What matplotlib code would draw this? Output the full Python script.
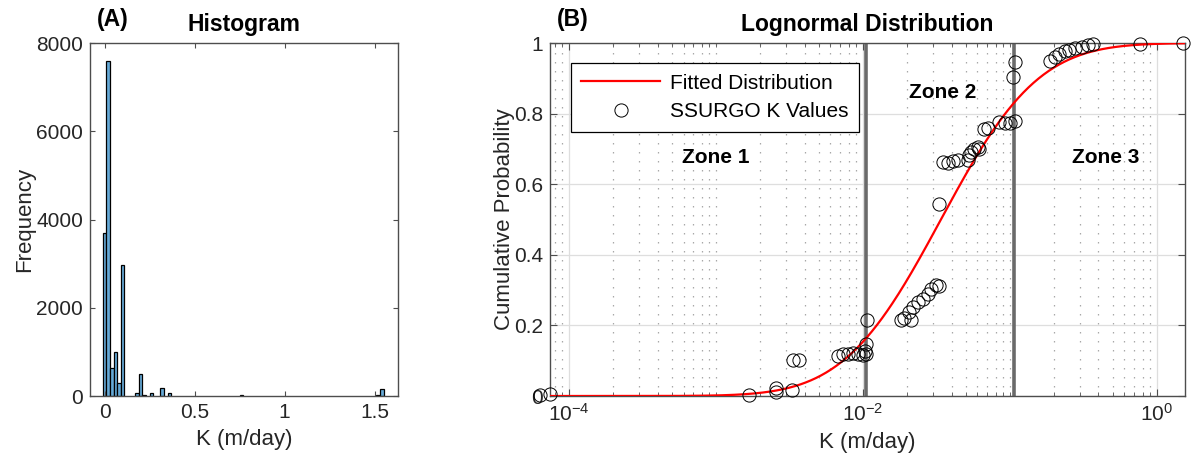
import math
import numpy as np
import matplotlib
matplotlib.use('Agg')
import matplotlib.pyplot as plt
from matplotlib.ticker import FixedLocator, LogLocator, NullFormatter

plt.rcParams['font.family'] = ['Liberation Sans', 'DejaVu Sans']
plt.rcParams['mathtext.default'] = 'regular'

# histogram of K values (bin centers in m/day, 0.02 wide bins)
hist_centers = [0.00, 0.02, 0.04, 0.06, 0.08, 0.10, 0.18, 0.20, 0.22, 0.26,
                0.32, 0.36, 0.76, 1.52, 1.54]
hist_counts = [3700, 7600, 630, 990, 290, 2960, 60, 510, 15, 60,
               175, 60, 15, 20, 170]
bin_width = 0.02

# SSURGO K values and their empirical cumulative probability
k_vals = [6.3e-5, 7.4e-5, 1.68e-3, 2.55e-3, 2.57e-3, 3.27e-3, 3.32e-3, 3.64e-3,
          6.71e-3, 7.26e-3, 7.85e-3, 8.49e-3, 9.18e-3, 9.93e-3, 1.047e-2,
          1.03e-2, 1.04e-2, 1.06e-2,
          1.82e-2, 1.91e-2, 2.12e-2, 2.07e-2, 2.18e-2, 2.36e-2, 2.55e-2,
          2.75e-2, 2.90e-2, 3.14e-2, 3.31e-2, 3.31e-2,
          3.48e-2, 3.77e-2, 4.07e-2, 4.41e-2, 5.16e-2, 5.30e-2, 5.45e-2,
          5.73e-2, 6.04e-2, 6.19e-2, 6.70e-2, 7.06e-2,
          8.47e-2, 9.18e-2, 9.93e-2, 0.1074, 0.1045, 0.1074,
          0.186, 0.201, 0.217, 0.235, 0.254, 0.279, 0.307, 0.337, 0.365,
          0.762, 1.50]
cum_prob = [0.003, 0.005, 0.004, 0.010, 0.023, 0.018, 0.101, 0.103,
            0.112, 0.118, 0.120, 0.122, 0.120, 0.115, 0.120,
            0.127, 0.148, 0.216,
            0.216, 0.222, 0.216, 0.238, 0.252, 0.266, 0.276,
            0.290, 0.304, 0.314, 0.311, 0.543,
            0.663, 0.661, 0.665, 0.668, 0.668, 0.682, 0.691,
            0.701, 0.705, 0.701, 0.755, 0.760,
            0.776, 0.773, 0.773, 0.779, 0.904, 0.946,
            0.948, 0.959, 0.969, 0.976, 0.981, 0.985, 0.989, 0.993, 0.996,
            0.996, 1.0]

# lognormal fit parameters (natural log)
mu_ln = -3.385
sigma_ln = 1.197

# zone boundaries and labels
zone_bounds = [0.0105, 0.107]
zone_labels = ['Zone 1', 'Zone 2', 'Zone 3']
zone_label_x = [1.0e-3, 0.035, 0.45]
zone_label_y = [0.675, 0.86, 0.675]

txt_col = '#262626'
spine_col = '#4d4d4d'

fig = plt.figure(figsize=(11.94, 4.63), dpi=100)
axA = fig.add_axes([0.0754, 0.1447, 0.258, 0.7624])
axB = fig.add_axes([0.4606, 0.1447, 0.5318, 0.7624])

# ---- (A) histogram
axA.bar(hist_centers, hist_counts, width=bin_width, color=(0.4, 0.668, 0.845),
        edgecolor='black', linewidth=0.9)
axA.set_xlim(-0.081, 1.63)
axA.set_ylim(0, 8000)
axA.set_xticks([0, 0.5, 1, 1.5])
axA.set_xticklabels(['0', '0.5', '1', '1.5'])
axA.set_yticks([0, 2000, 4000, 6000, 8000])
axA.set_xlabel('K (m/day)', fontsize=16, color=txt_col, labelpad=5)
axA.set_ylabel('Frequency', fontsize=16, color=txt_col, labelpad=1)
axA.set_title('Histogram', fontsize=16.5, fontweight='bold', pad=9)
axA.tick_params(direction='in', top=True, right=True, length=3.5, width=0.8,
                labelsize=15, labelcolor=txt_col, color=spine_col, pad=5)

# ---- (B) lognormal cdf
k_fit = np.logspace(math.log10(7.4e-5), math.log10(1.55), 500)
cdf_fit = np.array([0.5 * (1 + math.erf((math.log(k) - mu_ln) / (sigma_ln * math.sqrt(2))))
                    for k in k_fit])

axB.set_xscale('log')
axB.set_xlim(7.4e-5, 1.55)
axB.set_ylim(0, 1)

for xb in zone_bounds:
    axB.axvline(xb, color='#6a6a6a', lw=2.6, zorder=2)

axB.plot(k_fit, cdf_fit, color='red', lw=1.6, zorder=3, label='Fitted Distribution')
axB.plot(k_vals, cum_prob, 'o', mfc='none', mec='black', ms=9.5, mew=0.7,
         clip_on=False, zorder=4, label='SSURGO K Values')

for lab, lx, ly in zip(zone_labels, zone_label_x, zone_label_y):
    axB.text(lx, ly, lab, ha='center', va='center', fontsize=15, fontweight='bold')

axB.xaxis.set_major_locator(FixedLocator([1e-4, 1e-2, 1]))
axB.set_xticklabels(['$10^{-4}$', '$10^{-2}$', '$10^{0}$'])
axB.xaxis.set_minor_locator(LogLocator(base=10, subs=np.arange(1, 10), numticks=50))
axB.xaxis.set_minor_formatter(NullFormatter())
axB.set_yticks([0, 0.2, 0.4, 0.6, 0.8, 1])
axB.set_yticklabels(['0', '0.2', '0.4', '0.6', '0.8', '1'])

axB.grid(which='major', color='#dedede', lw=0.9, zorder=0)
axB.xaxis.grid(which='minor', color='#a8a8a8', lw=0.9, ls=(0, (1.2, 6)))
axB.set_axisbelow(True)

axB.set_xlabel('K (m/day)', fontsize=16, color=txt_col, labelpad=5)
axB.set_ylabel('Cumulative Probability', fontsize=16, color=txt_col, labelpad=-1)
axB.set_title('Lognormal Distribution', fontsize=16.5, fontweight='bold', pad=9)
axB.tick_params(which='both', direction='in', top=True, right=True,
                labelsize=15, labelcolor=txt_col, color=spine_col, pad=5)
axB.tick_params(which='major', length=5, width=0.8)
axB.tick_params(which='minor', length=3, width=0.6)

leg = axB.legend(loc='upper left', bbox_to_anchor=(0.033, 0.9425), borderaxespad=0,
                 fancybox=False, edgecolor='black', framealpha=1, fontsize=15,
                 handlelength=3.8, handletextpad=0.45, labelspacing=0.45, borderpad=0.5)
leg.get_frame().set_linewidth(0.9)

for ax in (axA, axB):
    for sp in ax.spines.values():
        sp.set_color(spine_col)
        sp.set_linewidth(1.0)

fig.text(0.081, 0.957, '(A)', fontsize=16.5, fontweight='bold', va='center', ha='left')
fig.text(0.4665, 0.957, '(B)', fontsize=16.5, fontweight='bold', va='center', ha='left')

fig.savefig('out.png', dpi=100)
